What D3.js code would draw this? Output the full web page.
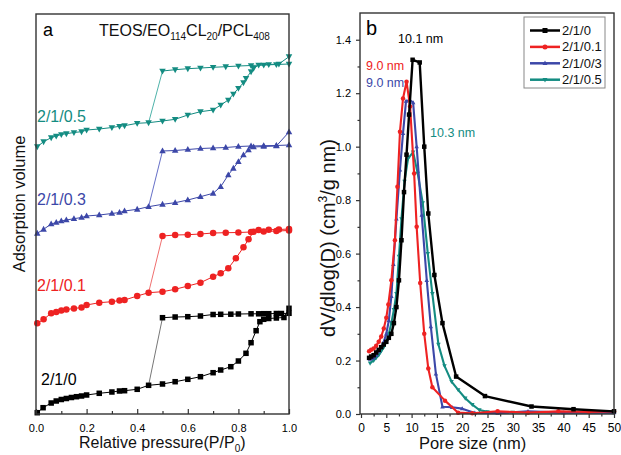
<!DOCTYPE html>
<html>
<head>
<meta charset="utf-8">
<script src="https://cdn.jsdelivr.net/npm/d3@7"></script>
<style>
  body { margin: 0; background: #fff; }
  svg { display: block; font-family: "Liberation Sans", Arial, sans-serif; }
</style>
</head>
<body>
<div id="chart"></div>
<script>
// ---- panel a : isotherms (relative pressure, adsorbed volume in arbitrary offset units)
var iso0Ads = [[0.005,1.3],[0.028,6.3],[0.06,11],[0.08,13],[0.1,14.5],[0.12,15.5],[0.14,16.5],[0.16,17.3],[0.18,18],[0.2,19],[0.25,20.7],[0.3,22],[0.33,23],[0.35,23.3],[0.4,24.7],[0.445,28.7],[0.5,30],[0.55,32.3],[0.6,34.7],[0.65,37.3],[0.7,41.3],[0.73,44],[0.77,47.3],[0.8,53],[0.83,60.7],[0.85,71.3],[0.87,83.3],[0.885,92.3],[0.9,94.7],[0.92,95.5],[0.95,96],[0.98,96.5],[1.0,105.7]];
var iso0Des = [[1.0,100.7],[0.97,100.5],[0.95,100.5],[0.92,100.3],[0.9,100.3],[0.88,100.2],[0.85,100.2],[0.8,100],[0.77,99.8],[0.73,99.7],[0.7,99.5],[0.65,98],[0.6,97.3],[0.55,97],[0.5,96.3]];

var iso01Ads = [[0.005,90.7],[0.03,94.7],[0.06,100.7],[0.08,102],[0.1,103.5],[0.12,104.5],[0.15,105.5],[0.18,106.5],[0.2,109],[0.25,111.3],[0.3,112.3],[0.33,113.5],[0.35,114],[0.4,118],[0.445,121.3],[0.5,122.3],[0.55,124.7],[0.6,128],[0.65,131.3],[0.7,137.3],[0.73,140.7],[0.76,145.7],[0.79,155.7],[0.82,166.7],[0.84,174.7],[0.86,182.3],[0.88,184],[0.92,184.3],[0.96,184.5],[1.0,185]];
var iso01Des = [[1.0,183.5],[0.95,183],[0.9,182.5],[0.85,182],[0.8,181.5],[0.75,181.3],[0.7,181],[0.65,180],[0.6,179.3],[0.55,179],[0.5,178]];

var iso03Ads = [[0.005,180.7],[0.03,184.7],[0.06,190],[0.08,191.5],[0.1,193],[0.12,194],[0.15,195.3],[0.18,196.5],[0.2,198],[0.25,199],[0.3,200.5],[0.33,201.5],[0.35,203],[0.4,204.7],[0.445,207.3],[0.5,209.7],[0.55,211.3],[0.6,214],[0.65,217.3],[0.7,220.7],[0.73,227.3],[0.76,239],[0.78,245.7],[0.8,252.3],[0.82,259],[0.84,264],[0.86,267],[0.9,267.5],[0.95,268],[1.0,282]];
var iso03Des = [[1.0,269],[0.95,268.5],[0.9,268.3],[0.85,268],[0.8,267.5],[0.75,266.5],[0.7,266],[0.65,265.5],[0.6,264.5],[0.55,263.5],[0.5,263]];

var iso05Ads = [[0.005,267.3],[0.03,272.3],[0.06,276.3],[0.08,278],[0.1,279.5],[0.12,280.3],[0.15,281.5],[0.18,282.3],[0.2,284],[0.25,285],[0.3,286.5],[0.33,287.7],[0.35,288.3],[0.4,290.7],[0.445,291.3],[0.5,293],[0.55,294.7],[0.6,299],[0.65,302.3],[0.7,304],[0.73,309],[0.76,314],[0.78,320],[0.8,325.7],[0.82,331.3],[0.83,335.7],[0.85,342.3],[0.86,345.7],[0.88,349],[0.92,349.5],[0.96,350],[1.0,357.3]];
var iso05Des = [[1.0,350],[0.95,349.5],[0.9,349],[0.85,348.5],[0.8,348],[0.75,347.3],[0.7,346.7],[0.65,346],[0.6,345.3],[0.55,344.3],[0.5,343]];

var isoLabels = ["2/1/0", "2/1/0.1", "2/1/0.3", "2/1/0.5"];
var pTicks = [0, 0.2, 0.4, 0.6, 0.8, 1.0];
var pMinor = [0.1, 0.3, 0.5, 0.7, 0.9];

// ---- panel b : pore size distributions (nm, dV/dlog(D))
var psd0 = [[1.6,0.21],[2.0,0.215],[2.5,0.22],[3.0,0.23],[3.5,0.24],[4.0,0.25],[4.5,0.26],[5.0,0.27],[5.5,0.285],[6.0,0.30],[6.5,0.34],[7.0,0.40],[7.5,0.50],[8.0,0.65],[8.5,0.83],[9.0,0.97],[9.5,1.12],[10.2,1.325],[11.6,1.315],[12.5,1.0],[13.3,0.75],[14.5,0.52],[16.1,0.34],[18.8,0.14],[24.5,0.067],[33.7,0.028],[42,0.018],[50,0.01]];
var psd01 = [[1.6,0.235],[2.0,0.24],[2.5,0.245],[3.0,0.255],[3.5,0.27],[4.0,0.29],[4.5,0.32],[5.0,0.36],[5.4,0.41],[6.0,0.50],[6.7,0.65],[7.2,0.85],[7.7,1.056],[8.3,1.18],[9.0,1.243],[9.7,1.15],[10.5,0.90],[11.0,0.70],[11.7,0.49],[12.5,0.30],[13.3,0.17],[14.1,0.10],[16.6,0.05],[19.2,0.005],[22,0.003],[27,0.01],[33,0.005],[39,0.01],[45,0.008],[50,0.01]];
var psd03 = [[1.8,0.205],[2.5,0.21],[3.0,0.22],[3.5,0.235],[4.0,0.25],[4.5,0.27],[5.0,0.30],[5.5,0.35],[6.0,0.44],[6.4,0.56],[7.0,0.73],[7.7,0.913],[8.3,1.05],[8.9,1.17],[9.6,1.175],[10.3,1.165],[11.0,1.0],[12.0,0.744],[13.0,0.50],[13.8,0.327],[14.8,0.15],[16.1,0.027],[18,0.025],[20,0.02],[22.5,0.004],[27,0.003],[33,0.01],[40,0.005],[50,0.005]];
var psd05 = [[1.8,0.19],[2.5,0.2],[3.0,0.21],[3.5,0.22],[4.0,0.235],[4.5,0.25],[5.0,0.27],[5.5,0.30],[6.0,0.34],[6.5,0.39],[7.0,0.45],[7.5,0.59],[8.0,0.73],[8.6,0.87],[9.3,0.955],[10.3,0.98],[11.2,0.90],[12.2,0.79],[13.2,0.60],[14.1,0.45],[15.3,0.26],[16.5,0.18],[17.9,0.121],[19.2,0.09],[20.6,0.059],[22,0.035],[23.4,0.015],[25,0.008],[30,0.006],[40,0.006],[50,0.006]];

var psdLabels = ["2/1/0", "2/1/0.1", "2/1/0/3", "2/1/0.5"];
var peakLabels = ["10.1 nm", "9.0 nm", "9.0 nm", "10.3 nm"];
var dTicks = [0, 5, 10, 15, 20, 25, 30, 35, 40, 45, 50];
var dvTicks = [0, 0.2, 0.4, 0.6, 0.8, 1.0, 1.2, 1.4];

var colors = ["#000000", "#ee2222", "#3c47a8", "#148c82"];
var shapes = ["square", "circle", "up", "down"];

var W = 621, H = 455;
var svg = d3.select("#chart").append("svg").attr("width", W).attr("height", H);

function marker(sel, shape, s) {
    // s = approx width in px
    if (shape === "square") {
        sel.append("rect").attr("x", -s/2).attr("y", -s/2).attr("width", s).attr("height", s);
    } else if (shape === "circle") {
        sel.append("circle").attr("r", s/2);
    } else {
        var h = s * 0.9, d = shape === "up" ? 1 : -1;
        sel.append("path").attr("d", "M0," + (-d*h*0.6) + "L" + (s/2) + "," + (d*h*0.4) + "L" + (-s/2) + "," + (d*h*0.4) + "Z");
    }
}

// ================= panel a =================
var ax = d3.scaleLinear().domain([0, 1]).range([36, 289]);
var ay = d3.scaleLinear().domain([0, 400]).range([414, 14]);
var ga = svg.append("g");

var isoAds = [iso0Ads, iso01Ads, iso03Ads, iso05Ads];
var isoDes = [iso0Des, iso01Des, iso03Des, iso05Des];
var lineA = d3.line().x(function(d){ return ax(d[0]); }).y(function(d){ return ay(d[1]); });
var closeColors = ["#777777", "#f07070", "#6670c8", "#4fb3aa"];

isoAds.forEach(function(ads, i){
    var des = isoDes[i];
    var last = des[des.length-1];
    var join = ads.find(function(d){ return d[0] === 0.445; });
    // hysteresis closing line
    ga.append("path").attr("d", lineA([last, join]))
        .attr("fill", "none").attr("stroke", closeColors[i]).attr("stroke-width", 1);
    ga.append("path").attr("d", lineA(ads))
        .attr("fill", "none").attr("stroke", colors[i]).attr("stroke-width", 1);
    ga.append("path").attr("d", lineA(des))
        .attr("fill", "none").attr("stroke", colors[i]).attr("stroke-width", 1);
    ads.concat(des).forEach(function(d){
        var m = ga.append("g").attr("transform", "translate(" + ax(d[0]) + "," + ay(d[1]) + ")")
            .attr("fill", colors[i]);
        marker(m, shapes[i], i === 0 ? 5.5 : 6.5);
    });
});

ga.append("rect").attr("x", 36).attr("y", 14).attr("width", 253).attr("height", 400)
    .attr("fill", "none").attr("stroke", "#333").attr("stroke-width", 1.4);

var axA = ga.append("g").attr("transform", "translate(0,414)")
    .call(d3.axisBottom(ax).tickValues(pTicks).tickSize(-5).tickPadding(10).tickFormat(d3.format(".1f")));
var axAm = ga.append("g").attr("transform", "translate(0,414)")
    .call(d3.axisBottom(ax).tickValues(pMinor).tickSize(-3).tickFormat(""));
[axA, axAm].forEach(function(g){
    g.select(".domain").remove();
    g.selectAll("line").attr("stroke", "#333").attr("stroke-width", 1.2);
});
axA.selectAll("text").attr("font-size", 11).attr("fill", "#000").style("font-family", "Liberation Sans, Arial, sans-serif");

var isoLabelPos = [[41, 385], [37, 291], [37, 205], [37, 122]];
isoLabels.forEach(function(t, i){
    ga.append("text").attr("x", isoLabelPos[i][0]).attr("y", isoLabelPos[i][1])
        .attr("font-size", 16).attr("fill", colors[i]).text(t);
});

ga.append("text").attr("x", 43).attr("y", 36).attr("font-size", 18).text("a");
var ttl = ga.append("text").attr("x", 99).attr("y", 36).attr("font-size", 16).attr("fill", "#111");
ttl.append("tspan").text("TEOS/EO");
ttl.append("tspan").attr("font-size", 10).attr("dy", 4).text("114");
ttl.append("tspan").attr("dy", -4).text("CL");
ttl.append("tspan").attr("font-size", 10).attr("dy", 4).text("20");
ttl.append("tspan").attr("dy", -4).text("/PCL");
ttl.append("tspan").attr("font-size", 10).attr("dy", 4).text("408");

ga.append("text").attr("transform", "translate(25,204) rotate(-90)")
    .attr("text-anchor", "middle").attr("font-size", 16.5).attr("fill", "#111").text("Adsorption volume");
var xla = ga.append("text").attr("x", 79).attr("y", 448).attr("font-size", 16).attr("fill", "#111");
xla.append("tspan").text("Relative pressure(P/P");
xla.append("tspan").attr("font-size", 10).attr("dy", 4).text("0");
xla.append("tspan").attr("dy", -4).text(")");

// ================= panel b =================
var bx = d3.scaleLinear().domain([0, 50]).range([361, 614]);
var by = d3.scaleLinear().domain([0, 1.5]).range([414, 13]);
var gb = svg.append("g");
var psds = [psd0, psd01, psd03, psd05];
var lineB = d3.line().x(function(d){ return bx(d[0]); }).y(function(d){ return by(d[1]); });

[3, 2, 1, 0].forEach(function(i){
    gb.append("path").attr("d", lineB(psds[i]))
        .attr("fill", "none").attr("stroke", colors[i]).attr("stroke-width", i === 0 ? 2.4 : 2.1)
        .attr("stroke-linejoin", "round");
    psds[i].forEach(function(d){
        var m = gb.append("g").attr("transform", "translate(" + bx(d[0]) + "," + by(d[1]) + ")")
            .attr("fill", colors[i]);
        marker(m, shapes[i], 4.5);
    });
});

gb.append("rect").attr("x", 360).attr("y", 13).attr("width", 254).attr("height", 401)
    .attr("fill", "none").attr("stroke", "#333").attr("stroke-width", 1.4);

var minorD = d3.range(2.5, 50, 5);
var minorV = d3.range(0.1, 1.5, 0.2);
var axB = gb.append("g").attr("transform", "translate(0,414)")
    .call(d3.axisBottom(bx).tickValues(dTicks).tickSize(4).tickPadding(5).tickFormat(d3.format("d")));
var axBm = gb.append("g").attr("transform", "translate(0,414)")
    .call(d3.axisBottom(bx).tickValues(minorD).tickSize(2.5).tickFormat(""));
var ayB = gb.append("g").attr("transform", "translate(360,0)")
    .call(d3.axisLeft(by).tickValues(dvTicks).tickSize(4).tickPadding(5).tickFormat(d3.format(".1f")));
var ayBm = gb.append("g").attr("transform", "translate(360,0)")
    .call(d3.axisLeft(by).tickValues(minorV).tickSize(2.5).tickFormat(""));
[axB, axBm, ayB, ayBm].forEach(function(g){
    g.select(".domain").remove();
    g.selectAll("line").attr("stroke", "#333").attr("stroke-width", 1.2);
    g.selectAll("text").attr("fill", "#000").style("font-family", "Liberation Sans, Arial, sans-serif");
});
axB.selectAll("text").attr("font-size", 12);
ayB.selectAll("text").attr("font-size", 11);

gb.append("text").attr("x", 366).attr("y", 35).attr("font-size", 20).text("b");

var peakPos = [[398, 43], [366, 70], [366, 87], [430, 137]];
peakLabels.forEach(function(t, i){
    gb.append("text").attr("x", peakPos[i][0]).attr("y", peakPos[i][1])
        .attr("font-size", 12.5).attr("fill", colors[i]).text(t);
});

// legend
var lg = gb.append("g");
lg.append("rect").attr("x", 524).attr("y", 17).attr("width", 81).attr("height", 71)
    .attr("fill", "#fff").attr("stroke", "#888").attr("stroke-width", 1);
psdLabels.forEach(function(t, i){
    var yy = 30.5 + i * 16.4;
    lg.append("line").attr("x1", 530).attr("x2", 560).attr("y1", yy).attr("y2", yy)
        .attr("stroke", colors[i]).attr("stroke-width", 2.5);
    var m = lg.append("g").attr("transform", "translate(545," + yy + ")").attr("fill", colors[i]);
    marker(m, shapes[i], 5);
    lg.append("text").attr("x", 562).attr("y", yy).attr("dy", "0.35em")
        .attr("font-size", 13).attr("fill", "#111").text(t);
});

var ylb = gb.append("text").attr("transform", "translate(335,238) rotate(-90)")
    .attr("text-anchor", "middle").attr("font-size", 20).attr("fill", "#111");
ylb.append("tspan").text("dV/dlog(D) (cm");
ylb.append("tspan").attr("font-size", 12).attr("dy", -8).text("3");
ylb.append("tspan").attr("dy", 8).text("/g nm)");

gb.append("text").attr("x", 419).attr("y", 449).attr("font-size", 16.5).attr("fill", "#111").text("Pore size (nm)");
</script>
</body>
</html>
